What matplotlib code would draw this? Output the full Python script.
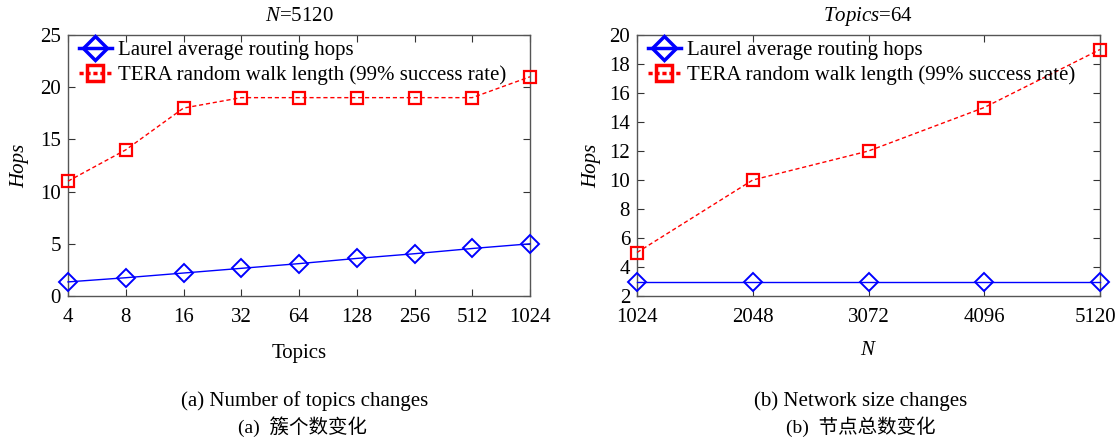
import matplotlib
matplotlib.use("Agg")
import matplotlib.pyplot as plt
from matplotlib.lines import Line2D
from matplotlib.transforms import ScaledTranslation

plt.rcParams['font.family'] = ['Liberation Serif', 'Noto Sans CJK SC']
plt.rcParams['mathtext.fontset'] = 'custom'
plt.rcParams['mathtext.rm'] = 'Liberation Serif'
plt.rcParams['mathtext.it'] = 'Liberation Serif:italic'

# (a) varying number of topics, N = 5120
topics = [4, 8, 16, 32, 64, 128, 256, 512, 1024]
laurel_topics = [1.35, 1.75, 2.2, 2.65, 3.1, 3.6, 4.05, 4.55, 5.0]
tera_topics = [11, 14, 18, 19, 19, 19, 19, 19, 21]

# (b) varying network size, Topics = 64
nodes = [1024, 2048, 3072, 4096, 5120]
laurel_nodes = [3, 3, 3, 3, 3]
tera_nodes = [5, 10, 12, 15, 19]

labels = ["Laurel average routing hops", "TERA random walk length (99% success rate)"]
BLUE = "#0000ff"
RED = "#ff0000"
FS = 15

fig = plt.figure(figsize=(11.16, 4.38), dpi=100)
ax1 = fig.add_axes([68/1116, 142/438, 462/1116, 261/438])
ax2 = fig.add_axes([637/1116, 142/438, 463/1116, 261/438])


def style(ax):
    ax.tick_params(direction='in', top=True, right=True, labelsize=FS, length=5,
                   width=0.8, colors='#333333', labelcolor='black')
    ax.tick_params(axis='x', pad=9)
    ax.tick_params(axis='y', pad=5)
    for s in ax.spines.values():
        s.set_color('#555555')
        s.set_linewidth(1.0)


def draw(ax, x, lau, tera):
    ax.plot(x, lau, '-', color=BLUE, lw=1.0, marker='D', ms=9, mfc='none',
            mec=BLUE, mew=1.4, clip_on=False, zorder=3)
    ax.plot(x, tera, '--', color=RED, lw=1.0, dashes=(3, 2), marker='s', ms=8,
            mfc='none', mec=RED, mew=1.6, clip_on=False, zorder=3)
    handles = [
        Line2D([], [], color=BLUE, lw=2.5, marker='D', ms=12, mfc='none', mew=2.5),
        Line2D([], [], color=RED, lw=2.5, ls='--', dashes=(1.2, 0.8), marker='s',
               ms=11, mfc='none', mew=2.5),
    ]
    ax.legend(handles, labels, loc='upper left', frameon=False, fontsize=FS,
              handlelength=1.6, handletextpad=0.3, labelspacing=0.25,
              borderaxespad=0.0, bbox_to_anchor=(0.005, 1.01))


# panel (a)
draw(ax1, topics, laurel_topics, tera_topics)
ax1.set_xscale('log', base=2)
ax1.set_xlim(4, 1024)
ax1.set_xticks(topics)
ax1.set_xticklabels([str(t) for t in topics])
ax1.minorticks_off()
ax1.set_ylim(0, 25)
ax1.set_yticks([0, 5, 10, 15, 20, 25])
ax1.set_xlabel("Topics", fontsize=FS, labelpad=12)
ax1.set_ylabel("Hops", fontsize=FS, style='italic', labelpad=8)
ax1.set_title("$\\mathit{N}$=5120", fontsize=FS, pad=10)
style(ax1)

# panel (b)
draw(ax2, nodes, laurel_nodes, tera_nodes)
ax2.set_xlim(1024, 5120)
ax2.set_xticks(nodes)
ax2.set_ylim(2, 20)
ax2.set_yticks(range(2, 21, 2))
ax2.set_xlabel("$\\mathit{N}$", fontsize=FS, labelpad=10)
ax2.set_ylabel("Hops", fontsize=FS, style='italic', labelpad=6)
ax2.set_title("$\\mathit{Topics}$=64", fontsize=FS, pad=10)
style(ax2)

# keep the last tick label of panel (b) inside the figure
last = ax2.get_xticklabels()[-1]
last.set_transform(last.get_transform() + ScaledTranslation(-4/100, 0, fig.dpi_scale_trans))

# captions
CFS = 15
fig.text(305/1116, 1 - 401/438, "(a) Number of topics changes", ha='center', va='center', fontsize=CFS)
fig.text(303/1116, 1 - 427/438, "(a)  簇个数变化", ha='center', va='center', fontsize=14)
fig.text(861/1116, 1 - 401/438, "(b) Network size changes", ha='center', va='center', fontsize=CFS)
fig.text(861/1116, 1 - 427/438, "(b)  节点总数变化", ha='center', va='center', fontsize=14)

fig.savefig("out.png", dpi=100, facecolor='white')
